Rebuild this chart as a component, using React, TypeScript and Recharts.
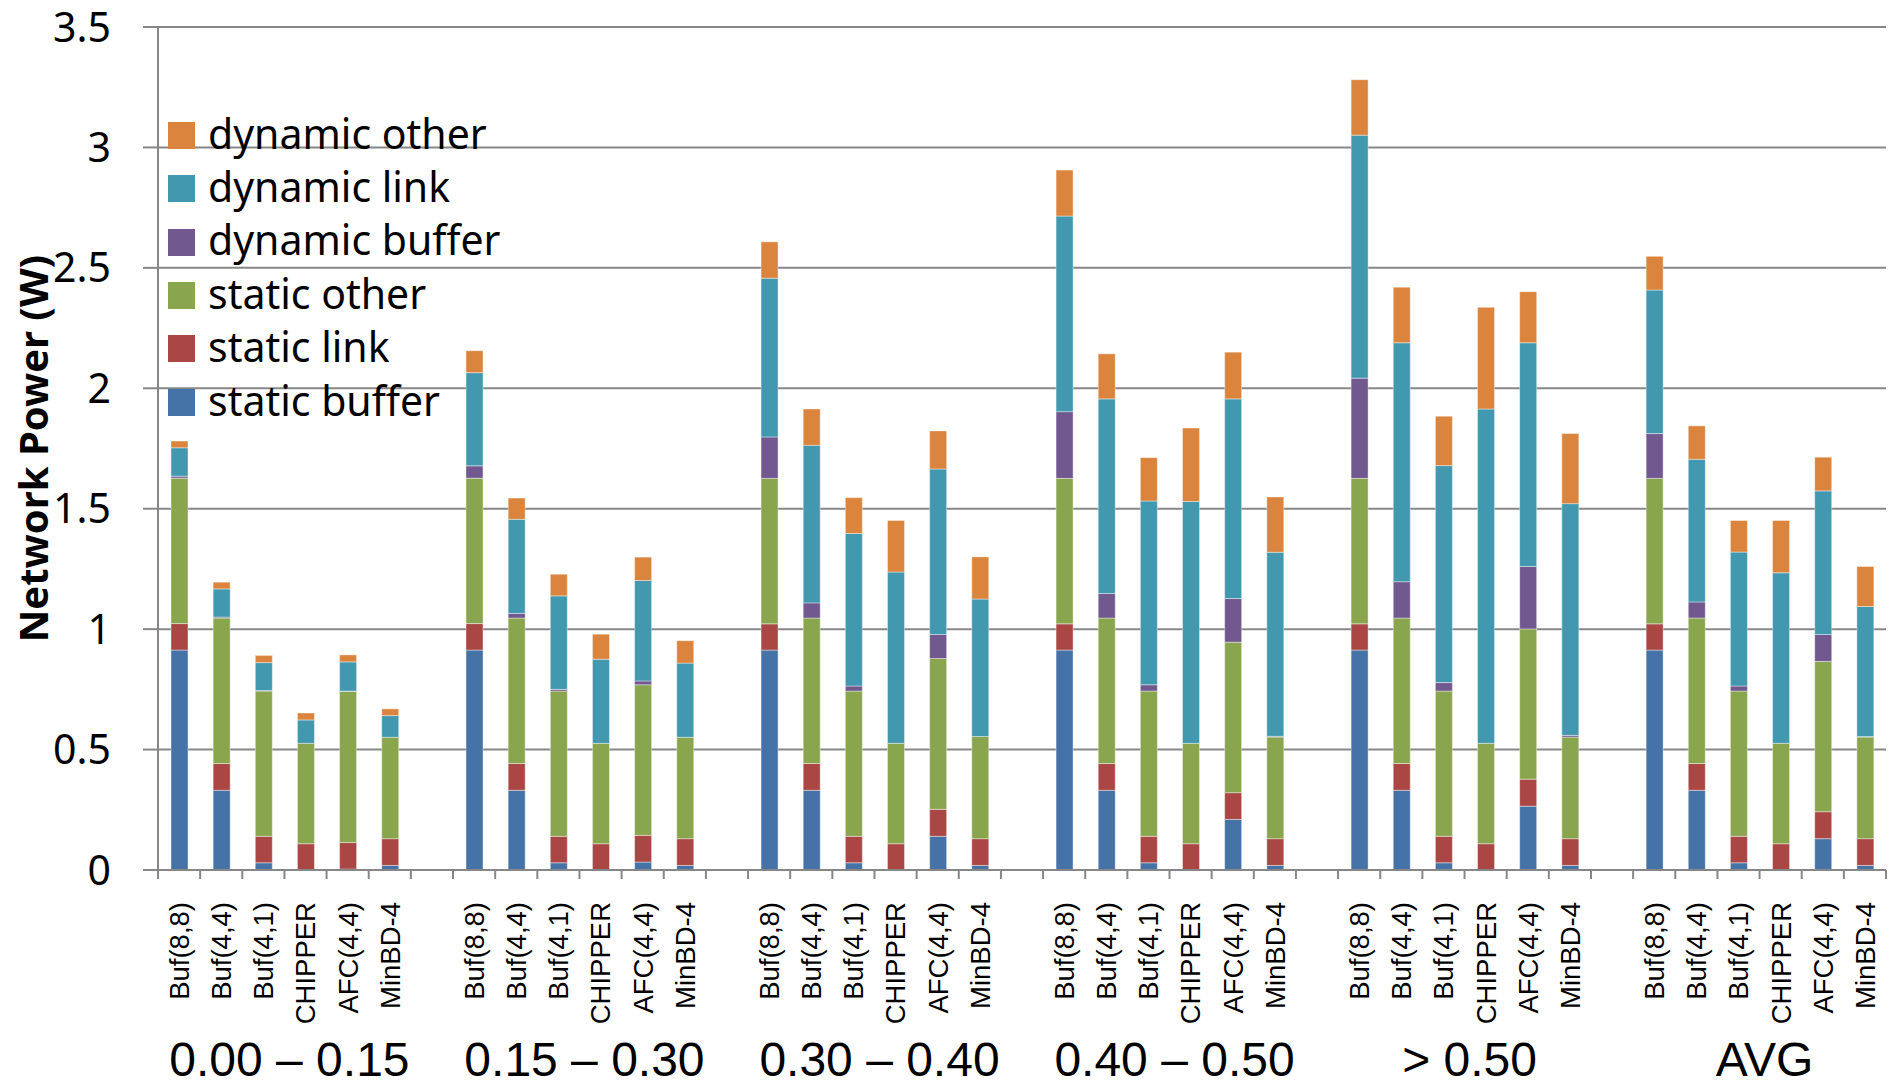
import React from "react";
import { BarChart, Bar, XAxis, YAxis, CartesianGrid, Legend } from "recharts";

const designs = ["Buf(8,8)", "Buf(4,4)", "Buf(4,1)", "CHIPPER", "AFC(4,4)", "MinBD-4"];
const groupLabels = ["0.00 – 0.15", "0.15 – 0.30", "0.30 – 0.40", "0.40 – 0.50", "> 0.50", "AVG"];
const yTicks = [0, 0.5, 1, 1.5, 2, 2.5, 3, 3.5];

// values per group, in the order of `designs`
const staticBuffer = [
  0.913, 0.331, 0.03, 0, 0.004, 0.019,
  0.913, 0.331, 0.03, 0, 0.033, 0.019,
  0.913, 0.331, 0.03, 0, 0.14, 0.019,
  0.913, 0.331, 0.03, 0, 0.21, 0.019,
  0.913, 0.331, 0.03, 0, 0.265, 0.019,
  0.913, 0.331, 0.03, 0, 0.13, 0.019,
];
const staticLink = [
  0.11, 0.111, 0.11, 0.109, 0.11, 0.111,
  0.11, 0.111, 0.11, 0.109, 0.111, 0.111,
  0.109, 0.111, 0.11, 0.109, 0.112, 0.111,
  0.109, 0.111, 0.11, 0.109, 0.111, 0.111,
  0.109, 0.111, 0.11, 0.109, 0.112, 0.111,
  0.109, 0.111, 0.11, 0.109, 0.112, 0.111,
];
const staticOther = [
  0.604, 0.604, 0.603, 0.417, 0.627, 0.421,
  0.604, 0.604, 0.603, 0.417, 0.625, 0.421,
  0.604, 0.604, 0.603, 0.417, 0.626, 0.424,
  0.604, 0.604, 0.603, 0.417, 0.625, 0.422,
  0.604, 0.604, 0.603, 0.417, 0.624, 0.422,
  0.604, 0.604, 0.603, 0.417, 0.624, 0.422,
];
const dynamicBuffer = [
  0.008, 0.004, 0.002, 0, 0.002, 0,
  0.051, 0.019, 0.007, 0, 0.016, 0,
  0.172, 0.063, 0.021, 0, 0.1, 0,
  0.277, 0.102, 0.026, 0, 0.181, 0.003,
  0.416, 0.151, 0.035, 0, 0.259, 0.007,
  0.186, 0.067, 0.021, 0, 0.112, 0.002,
];
const dynamicLink = [
  0.118, 0.117, 0.116, 0.097, 0.121, 0.09,
  0.387, 0.391, 0.388, 0.349, 0.417, 0.308,
  0.659, 0.654, 0.633, 0.711, 0.687, 0.571,
  0.812, 0.808, 0.763, 1.004, 0.829, 0.764,
  1.009, 0.992, 0.901, 1.388, 0.929, 0.962,
  0.596, 0.592, 0.556, 0.708, 0.596, 0.54,
];
const dynamicOther = [
  0.028, 0.028, 0.03, 0.029, 0.029, 0.028,
  0.091, 0.088, 0.09, 0.104, 0.097, 0.093,
  0.151, 0.151, 0.149, 0.214, 0.158, 0.175,
  0.191, 0.187, 0.18, 0.305, 0.194, 0.23,
  0.23, 0.231, 0.205, 0.422, 0.212, 0.291,
  0.14, 0.139, 0.131, 0.217, 0.14, 0.166,
];

// bottom-to-top stacking order
const series = [
  { key: "staticBuffer", name: "static buffer", color: "#4572A7", values: staticBuffer },
  { key: "staticLink", name: "static link", color: "#AA4643", values: staticLink },
  { key: "staticOther", name: "static other", color: "#89A54E", values: staticOther },
  { key: "dynamicBuffer", name: "dynamic buffer", color: "#71588F", values: dynamicBuffer },
  { key: "dynamicLink", name: "dynamic link", color: "#4198AF", values: dynamicLink },
  { key: "dynamicOther", name: "dynamic other", color: "#DB843D", values: dynamicOther },
];

// one slot per bar, plus an empty slot between groups
const rows: Record<string, any>[] = [];
groupLabels.forEach((_, gi) => {
  if (gi > 0) rows.push({ name: "" });
  designs.forEach((d, di) => {
    const row: Record<string, any> = { name: d };
    series.forEach((s) => {
      row[s.key] = s.values[gi * designs.length + di];
    });
    rows.push(row);
  });
});
rows.forEach((r, i) => {
  r.slot = i + 0.5; // centre of the slot, for the numeric helper axes
});
const slotCount = rows.length;
const boundaryTicks = Array.from({ length: slotCount + 1 }, (_, i) => i);
const groupTicks = groupLabels.map((_, gi) => gi * (designs.length + 1) + designs.length / 2);

const axisGray = "#878787";
const calibriLike = "'Noto Sans', sans-serif";
const arialLike = "'Liberation Sans', Arial, sans-serif";

function DesignTick({ x, y, payload }: any) {
  if (!payload.value) return <g />;
  const ty = y + 22;
  return (
    <text
      x={x}
      y={ty}
      transform={`rotate(-90, ${x}, ${ty})`}
      textAnchor="end"
      dy="0.36em"
      fontFamily={arialLike}
      fontSize={27.5}
      fill="#000"
    >
      {payload.value}
    </text>
  );
}

function GroupTick({ x, y, payload }: any) {
  const idx = groupTicks.indexOf(payload.value);
  return (
    <text x={x + 5} y={y + 66} textAnchor="middle" fontFamily={arialLike} fontSize={48} fill="#000">
      {groupLabels[idx]}
    </text>
  );
}

// legend lists the top of the stack first
function LegendBox({ payload }: any) {
  const list = payload ?? [];
  const items = [...series]
    .reverse()
    .map((s) => list.find((p: any) => p.value === s.name) ?? { value: s.name, color: s.color });
  return (
    <div>
      {items.map((it: any) => (
        <div key={it.value} style={{ position: "relative", height: 53.4 }}>
          <span
            style={{ position: "absolute", left: 0, top: 13.2, width: 27, height: 27, background: it.color }}
          />
          <span
            style={{
              position: "absolute",
              left: 40,
              top: -2,
              lineHeight: "53.4px",
              fontFamily: calibriLike,
              fontSize: 41,
              whiteSpace: "nowrap",
              color: "#000",
            }}
          >
            {it.value}
          </span>
        </div>
      ))}
    </div>
  );
}

export default function App() {
  return (
    <div style={{ position: "absolute", left: 0, top: 0, background: "#fff" }}>
      <BarChart
        width={1890}
        height={1086}
        data={rows}
        margin={{ top: 27, right: 4, bottom: 0, left: 0 }}
        barSize={17}
      >
        <CartesianGrid xAxisId="bnd" vertical={false} stroke={axisGray} strokeWidth={2} />
        <XAxis
          xAxisId="bnd"
          dataKey="slot"
          type="number"
          domain={[0, slotCount]}
          allowDataOverflow
          ticks={boundaryTicks}
          interval={0}
          height={10}
          tickSize={9}
          tick={() => <g />}
          axisLine={{ stroke: axisGray, strokeWidth: 2 }}
          tickLine={{ stroke: axisGray, strokeWidth: 2 }}
        />
        <XAxis
          xAxisId="cat"
          dataKey="name"
          interval={0}
          height={130}
          tickSize={0}
          tickMargin={0}
          axisLine={false}
          tickLine={false}
          tick={<DesignTick />}
        />
        <XAxis
          xAxisId="grp"
          dataKey="slot"
          type="number"
          domain={[0, slotCount]}
          allowDataOverflow
          ticks={groupTicks}
          interval={0}
          height={76}
          tickSize={0}
          tickMargin={0}
          axisLine={false}
          tickLine={false}
          tick={<GroupTick />}
        />
        <YAxis
          domain={[0, 3.5]}
          ticks={yTicks}
          interval={0}
          width={158}
          tickSize={15}
          tickMargin={32}
          axisLine={{ stroke: axisGray, strokeWidth: 2 }}
          tickLine={{ stroke: axisGray, strokeWidth: 2 }}
          tick={{ fontSize: 41, fontFamily: calibriLike, fill: "#000" }}
          label={{
            value: "Network Power (W)",
            angle: -90,
            position: "insideLeft",
            offset: 34,
            style: { textAnchor: "middle", fontFamily: calibriLike, fontWeight: 700, fontSize: 40, fill: "#000" },
          }}
        />
        <Legend
          layout="vertical"
          align="center"
          verticalAlign="middle"
          content={<LegendBox />}
          wrapperStyle={{ left: 168, top: 108.6, width: 520 }}
        />
        {series.map((s) => (
          <Bar
            key={s.key}
            xAxisId="cat"
            dataKey={s.key}
            name={s.name}
            stackId="power"
            fill={s.color}
            stroke="#ffffff"
            strokeOpacity={0.4}
            strokeWidth={1}
            isAnimationActive={false}
          />
        ))}
      </BarChart>
    </div>
  );
}
